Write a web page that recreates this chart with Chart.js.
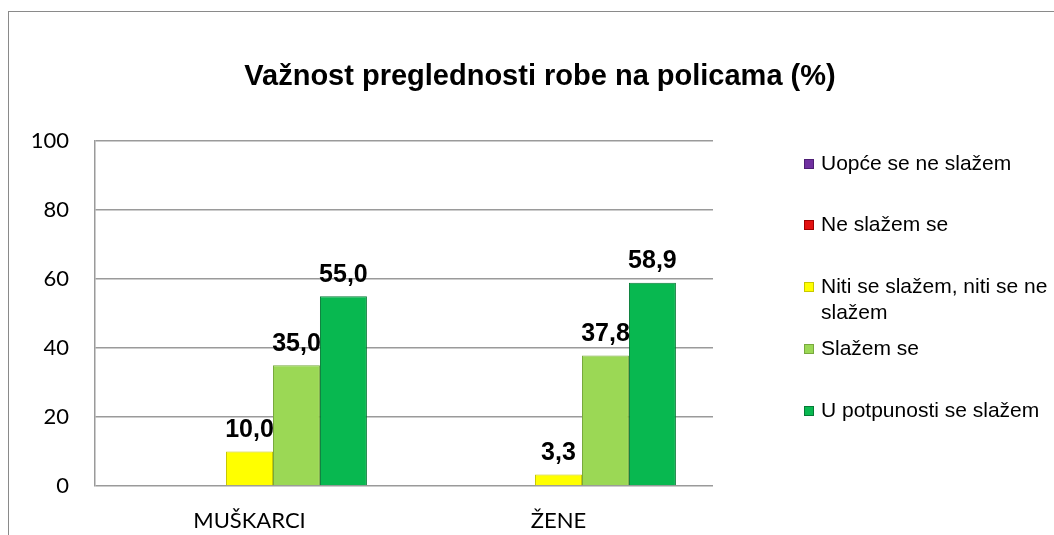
<!DOCTYPE html>
<html lang="hr">
<head>
  <meta charset="UTF-8">
  <title>Važnost preglednosti robe na policama</title>
  <script src="https://cdn.jsdelivr.net/npm/chart.js"></script>
  <style>
    body {
      margin: 0;
      background: #fff;
      font-family: Arial, "Liberation Sans", sans-serif;
    }
    #wrap {
      position: relative;
      width: 1054px;
      height: 535px;
      overflow: hidden;
    }
    #frame {
      position: absolute;
      left: 8px;
      top: 11px;
      width: 1100px;
      height: 600px;
      border-left: 1.5px solid #8a8a8a;
      border-top: 1.5px solid #8a8a8a;
    }
    #chart {
      position: absolute;
      left: 0;
      top: 0;
    }
    #title {
      position: absolute;
      left: 0;
      width: 1080px;
      top: 59px;
      text-align: center;
      font-weight: bold;
      font-size: 29px;
    }
    #legend {
      position: absolute;
      left: 804px;
      top: 0;
      font-size: 21px;
      color: #000;
    }
    .item {
      position: absolute;
      left: 0;
      white-space: nowrap;
      line-height: 26px;
    }
    .item .box {
      position: absolute;
      left: 0;
      top: 9px;
      width: 10px;
      height: 10px;
    }
    .item .txt {
      margin-left: 17px;
      display: block;
    }
  </style>
</head>
<body>
<div id="wrap">
  <div id="frame"></div>
  <canvas id="chart" width="1054" height="535"></canvas>
  <div id="title">Važnost preglednosti robe na policama (%)</div>
  <div id="legend"></div>
</div>

<script>
  // data
  const categories = ['MUŠKARCI', 'ŽENE'];
  const seriesNames = [
    'Uopće se ne slažem',
    'Ne slažem se',
    'Niti se slažem, niti se ne slažem',
    'Slažem se',
    'U potpunosti se slažem'
  ];
  const uopceSeNe = [0, 0];
  const neSlazem = [0, 0];
  const nitiNiti = [10.0, 3.3];
  const slazem = [35.0, 37.8];
  const uPotpunosti = [55.0, 58.9];
  const yTicks = [0, 20, 40, 60, 80, 100];

  const fills = ['#7030a0', '#e31010', '#ffff00', '#9bd855', '#08b850'];
  const borders = ['#4f1f75', '#a00000', '#c8c800', '#78a83e', '#067a36'];
  const seriesValues = [uopceSeNe, neSlazem, nitiNiti, slazem, uPotpunosti];

  // legend (html), positions
  const legendTops = [150, 211, 273, 335, 397];
  const legendText = [
    'Uopće se ne slažem',
    'Ne slažem se',
    'Niti se slažem, niti se ne<br>slažem',
    'Slažem se',
    'U potpunosti se slažem'
  ];
  const legendBox = document.getElementById('legend');
  seriesNames.forEach((name, i) => {
    const div = document.createElement('div');
    div.className = 'item';
    div.style.top = legendTops[i] + 'px';
    div.innerHTML = `<span class="box" style="background:${fills[i]};border:1px solid ${borders[i]};box-sizing:border-box"></span><span class="txt">${legendText[i]}</span>`;
    legendBox.appendChild(div);
  });

  // value labels above bars, comma as decimal sign
  const valueLabels = {
    id: 'valueLabels',
    afterDatasetsDraw(chart) {
      const ctx = chart.ctx;
      ctx.save();
      ctx.font = 'bold 25px Arial, "Liberation Sans", sans-serif';
      ctx.fillStyle = '#000';
      ctx.textAlign = 'center';
      ctx.textBaseline = 'bottom';
      chart.data.datasets.forEach((ds, i) => {
        const meta = chart.getDatasetMeta(i);
        meta.data.forEach((bar, j) => {
          const v = ds.data[j];
          if (!v) return;
          ctx.fillText(v.toFixed(1).replace('.', ','), bar.x, bar.y - 9);
        });
      });
      ctx.restore();
    }
  };

  new Chart(document.getElementById('chart'), {
    type: 'bar',
    data: {
      labels: categories,
      datasets: seriesNames.map((name, i) => ({
        label: name,
        data: seriesValues[i],
        backgroundColor: fills[i],
        borderColor: borders[i],
        borderWidth: 1,
        categoryPercentage: 0.76,
        barPercentage: 1.0
      }))
    },
    options: {
      responsive: false,
      animation: false,
      layout: { padding: { top: 141, right: 341, bottom: 0, left: 0 } },
      plugins: {
        legend: { display: false },
        title: { display: false },
        tooltip: { enabled: false }
      },
      scales: {
        x: {
          grid: { display: false, drawTicks: false },
          border: { display: false },
          ticks: {
            color: '#000',
            padding: 22,
            font: { family: 'Lato', size: 22 }
          },
          afterFit(scale) { scale.height = 49; }
        },
        y: {
          min: 0,
          max: 100,
          afterBuildTicks(scale) {
            scale.ticks = yTicks.map(v => ({ value: v }));
          },
          grid: { color: '#9a9a9a', lineWidth: 1.5, drawTicks: false },
          border: { display: true, color: '#9a9a9a', width: 1.5 },
          ticks: {
            color: '#000',
            padding: 26,
            font: { family: 'Lato', size: 22 }
          },
          afterFit(scale) { scale.width = 95; }
        }
      }
    },
    plugins: [valueLabels]
  });
</script>
</body>
</html>
